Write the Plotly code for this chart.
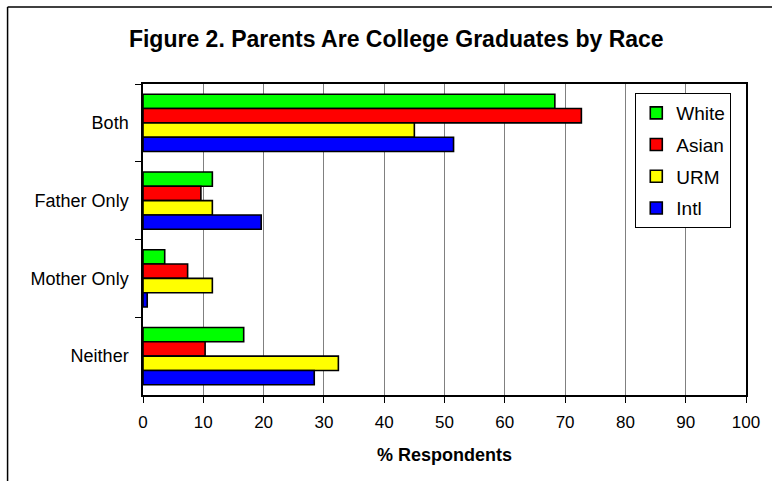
import plotly.graph_objects as go

categories = ["Both", "Father Only", "Mother Only", "Neither"]
series_names = ["White", "Asian", "URM", "Intl"]
white = [68.3, 11.5, 3.6, 16.7]
asian = [72.7, 9.6, 7.4, 10.3]
urm = [45.0, 11.5, 11.5, 32.4]
intl = [51.5, 19.6, 0.7, 28.4]
colors = ["#00FF00", "#FF0000", "#FFFF00", "#0000FF"]
x_ticks = list(range(0, 101, 10))

W, H = 772, 481
L, R, T, B = 143, 753, 84, 395  # plot area in pixels

def px_x(p):
    return (p - L) / (R - L)

def px_y(p):
    return (B - p) / (B - T)

FONT = "Liberation Sans, Arial, sans-serif"

fig = go.Figure()
for name, vals, col in zip(series_names, [white, asian, urm, intl], colors):
    fig.add_trace(go.Bar(
        y=categories, x=vals, name=name, orientation="h",
        marker=dict(color=col, line=dict(color="black", width=1.6)),
        legendgroup=name,
    ))

fig.update_layout(
    width=W, height=H,
    margin=dict(l=L, r=W - R, t=T, b=H - B, pad=0),
    paper_bgcolor="white", plot_bgcolor="white",
    barmode="group", bargap=0.263, bargroupgap=0,
    font=dict(family=FONT, color="black", size=18),
    title=dict(
        text="<b>Figure 2. Parents Are College Graduates by Race</b>",
        font=dict(family=FONT, size=23, color="black"),
        x=396.3 / W, xanchor="center", xref="container",
        y=1 - 38.5 / H, yanchor="middle", yref="container",
    ),
    xaxis=dict(
        range=[0, 100], tickvals=x_ticks, ticktext=[str(v) for v in x_ticks],
        showgrid=True, gridcolor="#808080", gridwidth=1,
        showline=True, linecolor="black", linewidth=1.5, mirror=True,
        ticks="outside", ticklen=6, tickcolor="black", tickwidth=1,
        tickfont=dict(size=17), zeroline=False, ticklabelstandoff=5,
        title=dict(text="<b>% Respondents</b>", font=dict(size=18), standoff=17),
    ),
    yaxis=dict(
        categoryorder="array", categoryarray=categories, autorange="reversed",
        showgrid=False, showline=True, linecolor="black", linewidth=1.5, mirror=True,
        ticks="outside", tickson="boundaries", ticklen=6, tickcolor="black", tickwidth=1,
        tickfont=dict(size=18), ticklabelstandoff=9,
    ),
    legend=dict(
        x=px_x(641), y=px_y(93), xanchor="left", yanchor="top",
        bgcolor="white", bordercolor="black", borderwidth=1,
        font=dict(size=19), traceorder="grouped", tracegroupgap=4,
        itemwidth=30,
    ),
    showlegend=True,
)

# outer chart border (left and top visible)
fig.add_shape(type="line", xref="paper", yref="paper",
              x0=px_x(6), x1=px_x(6), y0=px_y(7), y1=px_y(490),
              line=dict(color="black", width=1.5))
fig.add_shape(type="line", xref="paper", yref="paper",
              x0=px_x(6), x1=px_x(780), y0=px_y(7), y1=px_y(7),
              line=dict(color="black", width=1.5))

fig.write_html(
    "out.html",
    config={"displayModeBar": False},
    post_script="document.body.style.margin='0';document.body.style.overflow='hidden';",
)
